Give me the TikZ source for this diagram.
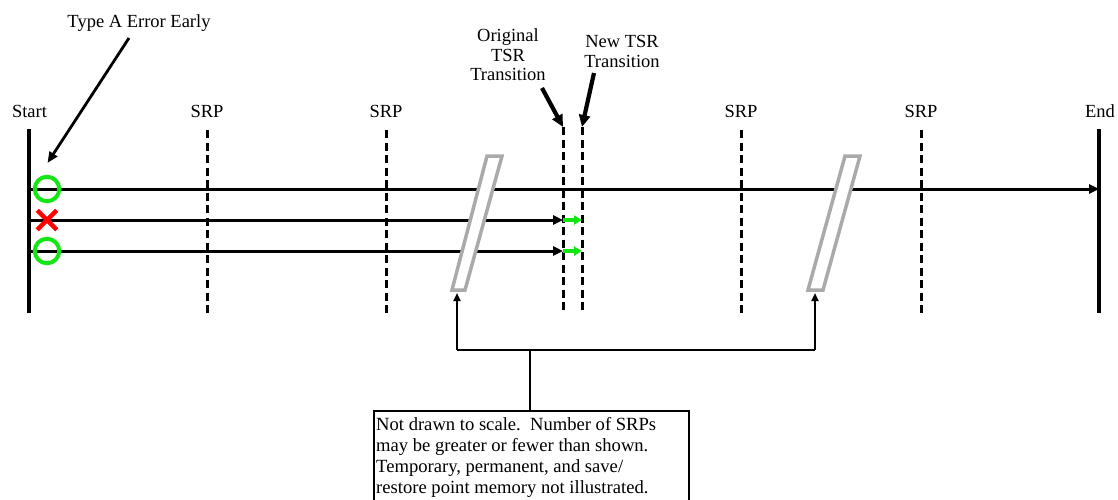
\documentclass[tikz,border=0pt]{standalone}
\usepackage{fontspec}
\setmainfont{Liberation Serif}
\usetikzlibrary{arrows.meta,shapes.misc}
\definecolor{okgreen}{RGB}{20,230,20}
\definecolor{brkgray}{RGB}{170,170,170}
\begin{document}
\begin{tikzpicture}[x=1pt,y=-1pt,
  lbl/.style={font=\fontsize{18.5}{20}\selectfont, inner sep=0pt},
  bound/.style={line width=3.8pt},
  srpline/.style={line width=3pt, dash pattern=on 8pt off 4.5pt},
  track/.style={line width=3pt},
  tipA/.style={-{Triangle[length=10pt,width=9pt]}},
  bigtip/.style={line width=4.2pt,-{Triangle[length=12pt,width=11pt]}},
  greenarr/.style={okgreen, line width=3.5pt,-{Triangle[length=8pt,width=9pt]}},
  okmark/.style={circle, draw=okgreen, line width=4pt, minimum size=24.5pt, inner sep=0pt},
  badmark/.style={cross out, draw=red, line width=4.5pt, minimum size=15pt, inner sep=0pt},
  brk/.style={draw=brkgray, fill=white, line width=3.5pt},
  thin/.style={line width=2.5pt},
  thintip/.style={line width=2.2pt,-{Triangle[length=8pt,width=7pt]}}
]
\useasboundingbox (0,0) rectangle (1118,499);

% labels
\node[lbl, anchor=base] (lstart) at (29.5,117) {Start};
\node[lbl, anchor=base] (lsrp1) at (207,117) {SRP};
\node[lbl, anchor=base] (lsrp2) at (386,117) {SRP};
\node[lbl, anchor=base] (lsrp3) at (741,117) {SRP};
\node[lbl, anchor=base] (lsrp4) at (921,117) {SRP};
\node[lbl, anchor=base] (lend) at (1100,117) {End};
\node[lbl, anchor=base] (ltype) at (139,27) {Type A Error Early};
\node[lbl, anchor=north, align=center, font=\fontsize{18.5}{19.5}\selectfont] (lorig) at (508,28.5) {Original\\TSR\\Transition};
\node[lbl, anchor=north, align=center, font=\fontsize{18.5}{20}\selectfont] (lnew) at (622,35.5) {New TSR\\Transition};

% coordinates
\coordinate (s1) at (29,129); \coordinate (s2) at (29,313);
\coordinate (e1) at (1099,129); \coordinate (e2) at (1099,313);
\foreach \n/\x in {a/207,b/386,c/741,d/921}{
  \coordinate (\n1) at (\x,130); \coordinate (\n2) at (\x,313);
}
\coordinate (o1) at (563,127); \coordinate (o2) at (563,313);
\coordinate (n1) at (582,127); \coordinate (n2) at (582,313);

% boundaries and dashed lines
\draw[bound] (s1) -- (s2);
\draw[bound] (e1) -- (e2);
\foreach \n in {a,b,c,d} \draw[srpline] (\n1) -- (\n2);
\draw[srpline] (o1) -- (o2);
\draw[srpline] (n1) -- (n2);

% tracks
\coordinate (t1) at (29,189); \coordinate (t1e) at (1099,189);
\coordinate (t2) at (29,220); \coordinate (t2e) at (563,220); \coordinate (t2n) at (582,220);
\coordinate (t3) at (29,251); \coordinate (t3e) at (563,251); \coordinate (t3n) at (582,251);
\draw[track, tipA] (t1) -- (t1e);
\draw[track, tipA] (t2) -- (t2e);
\draw[track, tipA] (t3) -- (t3e);
\draw[greenarr] (t2e) -- (t2n);
\draw[greenarr] (t3e) -- (t3n);

% break marks
\coordinate (p1a) at (487,156); \coordinate (p1b) at (502,156);
\coordinate (p1c) at (465,290); \coordinate (p1d) at (452,290);
\coordinate (p2a) at (845,156); \coordinate (p2b) at (860,156);
\coordinate (p2c) at (823,290); \coordinate (p2d) at (808,290);
\path[brk] (p1a) -- (p1b) -- (p1c) -- (p1d) -- cycle;
\path[brk] (p2a) -- (p2b) -- (p2c) -- (p2d) -- cycle;

% markers
\node[okmark] (m1) at (47,189) {};
\node[badmark] (m2) at (47,220) {};
\node[okmark] (m3) at (47,251) {};

% pointer arrows
\coordinate (ta) at (129,38);
\draw[line width=2.8pt,-{Triangle[length=11pt,width=9pt]}] (ta) -- (47.5,163);
\coordinate (oa) at (542,88);
\coordinate (na) at (594,73);
\draw[bigtip] (oa) -- (o1);
\draw[bigtip] (na) -- (n1);

% note and bracket
\node[draw, line width=2.2pt, minimum width=315pt, minimum height=95pt, anchor=north west, inner sep=0pt] (note) at (373,410) {};
\node[anchor=north west, align=left, inner sep=0pt, font=\fontsize{18.6}{21}\selectfont] (notetext) at (376,417.4)
  {Not drawn to scale.\ \ Number of SRPs\\may be greater or fewer than shown.\\Temporary, permanent, and save/\\restore point memory not illustrated.};
\coordinate (bl) at (457,350); \coordinate (br) at (815,350); \coordinate (bm) at (530,350);
\coordinate (u1) at (457,293); \coordinate (u2) at (815,293);
\draw[thin] (bl) -- (br);
\draw[thin] (bm) -- (note.north -| bm);
\draw[thintip] (bl) -- (u1);
\draw[thintip] (br) -- (u2);
\end{tikzpicture}
\end{document}
